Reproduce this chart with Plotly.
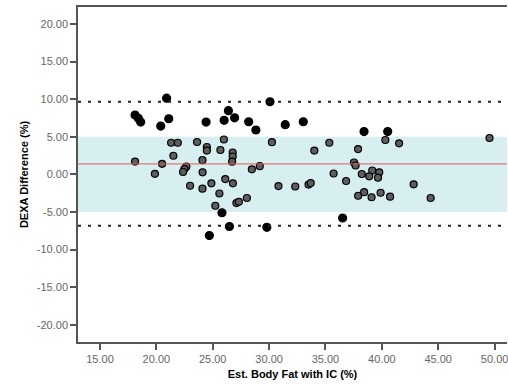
import plotly.graph_objects as go

# Data
est_body_fat = [
    18.11, 18.40, 18.61, 20.39, 20.91, 21.10, 24.41, 26.01, 26.39, 26.94,
    28.19, 28.83, 30.08, 31.43, 33.03, 38.42, 40.52,
    26.48, 24.70, 29.80, 36.52,
    21.31, 21.90, 23.61, 24.48, 24.48, 25.99, 25.68, 26.77, 26.77, 26.72,
    21.51, 18.11, 20.51, 24.09, 19.87, 22.66, 22.49, 22.37, 24.10, 22.99,
    24.09, 24.88, 26.11, 26.79, 25.59, 25.23, 25.82, 27.10, 27.32, 28.03,
    28.47, 29.17, 30.25, 34.01, 35.34, 37.89, 40.31, 41.53, 49.55, 37.53,
    37.67, 35.72, 38.22, 39.15, 39.77, 38.88, 39.66, 36.83, 30.83, 32.32,
    33.50, 33.69, 42.82, 37.90, 38.43, 39.09, 39.89, 40.73, 44.33,
]
dexa_difference = [
    7.89, 7.45, 6.95, 6.42, 10.12, 7.39, 6.95, 7.18, 8.46, 7.51,
    6.99, 5.89, 9.65, 6.60, 6.99, 5.69, 5.69,
    -6.94, -8.14, -7.05, -5.81,
    4.20, 4.20, 4.30, 3.63, 3.16, 4.63, 3.23, 2.90, 2.37, 1.68,
    2.47, 1.70, 1.40, 1.88, 0.07, 1.01, 0.70, 0.31, 0.27, -1.52,
    -1.91, -1.20, -0.63, -1.20, -2.55, -4.18, -5.11, -3.82, -3.66, -3.15,
    0.66, 1.08, 4.27, 3.16, 4.20, 3.36, 4.56, 4.12, 4.83, 1.57,
    1.17, 0.11, 0.04, 0.51, 0.27, -0.27, -0.45, -0.89, -1.56, -1.62,
    -1.36, -1.16, -1.33, -2.85, -2.38, -3.05, -2.45, -2.98, -3.15,
]

mean_difference = 1.38
upper_limit = 9.65
lower_limit = -6.85
band_low, band_high = -5.0, 5.0

x_ticks = [15, 20, 25, 30, 35, 40, 45, 50]
y_ticks = [-20, -15, -10, -5, 0, 5, 10, 15, 20]
x_range = [13.05, 51.1]
y_range = [-22.3, 22.25]

inside = [band_low <= v <= band_high for v in dexa_difference]
fill_colors = ["#5e5e5e" if i else "black" for i in inside]
sizes = [7 if i else 8 for i in inside]

fig = go.Figure()

fig.add_shape(type="rect", xref="x", yref="y",
              x0=x_range[0], x1=x_range[1], y0=band_low, y1=band_high,
              fillcolor="#d8eff1", line_width=0, layer="below")

for yv in (upper_limit, lower_limit):
    fig.add_shape(type="line", xref="x", yref="y",
                  x0=x_range[0], x1=x_range[1], y0=yv, y1=yv,
                  line=dict(color="#222222", width=2, dash="3px,7px"))
fig.add_shape(type="line", xref="x", yref="y",
              x0=x_range[0], x1=x_range[1], y0=mean_difference, y1=mean_difference,
              line=dict(color="#e05a5a", width=1))

fig.add_trace(go.Scatter(
    x=est_body_fat, y=dexa_difference, mode="markers",
    marker=dict(color=fill_colors, size=sizes, opacity=1,
                line=dict(color="black", width=1.2)),
    showlegend=False, hoverinfo="x+y",
))

tick_font = dict(family="Liberation Sans, Arial, sans-serif", size=11, color="#666666")
title_font = dict(family="Liberation Sans, Arial, sans-serif", size=11, color="black")

fig.update_xaxes(
    range=x_range, tickvals=x_ticks, ticktext=[f"{v:.2f}" for v in x_ticks],
    showgrid=False, zeroline=False, showline=True, linecolor="#555555", linewidth=1.5,
    mirror=True, ticks="outside", ticklen=6, tickcolor="#555555", tickwidth=1.5,
    tickfont=tick_font, ticklabeloverflow="allow",
    title=dict(text="<b>Est. Body Fat with IC (%)</b>", font=title_font, standoff=6),
)
fig.update_yaxes(
    range=y_range, tickvals=y_ticks, ticktext=[f"{v:.2f}" for v in y_ticks],
    showgrid=False, zeroline=False, showline=True, linecolor="#555555", linewidth=1.5,
    ticks="outside", ticklen=6, tickcolor="#555555", tickwidth=1.5,
    tickfont=tick_font,
    title=dict(text="<b>DEXA Difference (%)</b>", font=title_font, standoff=6),
)

fig.update_layout(
    width=508, height=384,
    margin=dict(l=78, r=1, t=7, b=42, autoexpand=False),
    plot_bgcolor="white", paper_bgcolor="white",
)

fig.write_html("out.html", config={"displayModeBar": False},
               post_script="document.body.style.margin='0';")
